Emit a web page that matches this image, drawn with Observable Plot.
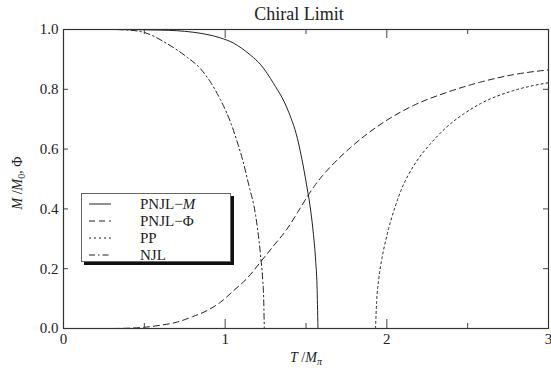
<!DOCTYPE html>
<html><head><meta charset="utf-8">
<script src="https://cdn.jsdelivr.net/npm/d3@7"></script>
<script src="https://cdn.jsdelivr.net/npm/@observablehq/plot@0.6"></script>
<style>
html,body{margin:0;padding:0;background:#fff;}
#wrap{position:relative;width:551px;height:373px;font-family:"Liberation Serif","DejaVu Serif",serif;}
#wrap svg, #wrap svg text{font-family:"Liberation Serif","DejaVu Serif",serif !important;}
#legend{position:absolute;left:81px;top:193px;width:148px;height:67px;border:1px solid #666;box-shadow:3px 3px 0 #111;background:#fff;}
#legend svg{display:block;overflow:visible;}
</style></head><body><div id="wrap"></div>
<script>
// ---- data ----
const seriesNames = ["PNJL-M", "PNJL-Phi", "PP", "NJL"];
const pnjlM_T = [0, 0.3, 0.5, 0.6, 0.7, 0.8, 0.9, 0.97, 1.05, 1.1, 1.16, 1.22, 1.3, 1.385, 1.447, 1.484, 1.507, 1.53, 1.546, 1.56, 1.568, 1.574];
const pnjlM_v = [1, 1, 0.999, 0.998, 0.996, 0.991, 0.982, 0.972, 0.955, 0.938, 0.913, 0.882, 0.819, 0.734, 0.635, 0.54, 0.47, 0.39, 0.315, 0.225, 0.145, 0];
const pnjlPhi_T = [0, 0.3, 0.4, 0.5, 0.6, 0.7, 0.8, 0.888, 0.971, 1.053, 1.136, 1.218, 1.3, 1.383, 1.45, 1.507, 1.55, 1.6, 1.65, 1.775, 1.981, 2.165, 2.373, 2.579, 2.783, 3.0];
const pnjlPhi_v = [0, 0, 0.001, 0.004, 0.011, 0.021, 0.04, 0.06, 0.088, 0.127, 0.168, 0.222, 0.277, 0.333, 0.39, 0.44, 0.475, 0.51, 0.54, 0.605, 0.69, 0.746, 0.79, 0.824, 0.849, 0.865];
const pp_T = [1.93, 1.937, 1.95, 1.97, 2.0, 2.05, 2.094, 2.167, 2.27, 2.373, 2.476, 2.579, 2.785, 3.0];
const pp_v = [0, 0.09, 0.165, 0.235, 0.31, 0.405, 0.47, 0.545, 0.618, 0.675, 0.718, 0.752, 0.796, 0.822];
const njl_T = [0, 0.3, 0.4, 0.5, 0.64, 0.765, 0.847, 0.909, 0.971, 1.033, 1.074, 1.11, 1.146, 1.188, 1.218, 1.232, 1.238, 1.242];
const njl_v = [1, 1, 0.998, 0.99, 0.953, 0.907, 0.869, 0.824, 0.765, 0.69, 0.625, 0.56, 0.48, 0.38, 0.25, 0.165, 0.105, 0];
const xTickLabels = [0, 1, 2, 3];
const xMinorTicks = [0.5, 1.5, 2.5];
const yTickLabels = [0, 0.2, 0.4, 0.6, 0.8, 1.0];
const xDomain = [0, 3];
const yDomain = [0, 1];

// ---- styles ----
const dash = {"PNJL-M": null, "PNJL-Phi": "6,4", "PP": "2,3", "NJL": "6,3,1.5,3"};
const ink = "#222";
const serif = "'Liberation Serif', 'DejaVu Serif', serif";

function rows(name, T, v, part) { return T.map((t, i) => ({series: name, seg: name + part, T: t, v: v[i]})); }
const curves = [
  ...rows("PNJL-M", pnjlM_T, pnjlM_v, "a"),
  ...rows("PNJL-Phi", pnjlPhi_T, pnjlPhi_v, "a"),
  ...rows("PP", pp_T, pp_v, "a"),
  ...rows("NJL", njl_T, njl_v, "a")
];
// zero branches: order parameters stay 0 past their Tc, PP is 0 below its Tc
const tails = [
  ...rows("PNJL-M", [pnjlM_T[pnjlM_T.length - 1], xDomain[1]], [0, 0], "z"),
  ...rows("NJL", [njl_T[njl_T.length - 1], xDomain[1]], [0, 0], "z"),
  ...rows("PP", [xDomain[0], pp_T[0]], [0, 0], "z")
];

const W = 551, H = 373, mL = 63, mR = 3, mT = 29, mB = 45;
const fw = W - mL - mR, fh = H - mT - mB;

const lineMarks = seriesNames.flatMap(name => [
  Plot.line(curves.filter(d => d.series === name), {x: "T", y: "v", z: "seg", curve: "monotone-x", stroke: ink, strokeWidth: 1, strokeDasharray: dash[name]}),
  Plot.line(tails.filter(d => d.series === name), {x: "T", y: "v", z: "seg", stroke: ink, strokeWidth: 1, strokeDasharray: dash[name]})
]);

const plot = Plot.plot({
  width: W, height: H,
  marginLeft: mL, marginRight: mR, marginTop: mT, marginBottom: mB,
  style: {fontFamily: serif, fontSize: "15px", color: ink, background: "#fff", overflow: "visible"},
  x: {domain: xDomain},
  y: {domain: yDomain},
  marks: [
    ...lineMarks,
    Plot.ruleX(xTickLabels.slice(1, -1), {insetTop: fh - 9, stroke: "#444"}),
    Plot.ruleX(xTickLabels.slice(1, -1), {insetBottom: fh - 9, stroke: "#444"}),
    Plot.ruleX(xMinorTicks, {insetTop: fh - 5, stroke: "#444"}),
    Plot.ruleX(xMinorTicks, {insetBottom: fh - 5, stroke: "#444"}),
    Plot.ruleY(yTickLabels.slice(1, -1), {insetRight: fw - 5, stroke: "#444"}),
    Plot.ruleY(yTickLabels.slice(1, -1), {insetLeft: fw - 5, stroke: "#444"}),
    Plot.frame({stroke: "#333", strokeWidth: 1.2}),
    Plot.axisX({ticks: xTickLabels, tickSize: 0, tickPadding: 5, tickFormat: d => String(d), label: null, fontSize: 15, fontFamily: serif}),
    Plot.axisY({ticks: yTickLabels, tickSize: 0, tickPadding: 5, tickFormat: d3.format(".1f"), label: null, fontSize: 15, fontFamily: serif})
  ]
});
plot.setAttribute("font-family", serif);
document.getElementById("wrap").appendChild(plot);

const svg = d3.select(plot);
svg.append("text").attr("x", 299).attr("y", 20).attr("text-anchor", "middle")
  .attr("font-family", serif).attr("font-size", 18).attr("fill", ink).text("Chiral Limit");
const xl = svg.append("text").attr("x", 306).attr("y", 362).attr("text-anchor", "middle")
  .attr("font-family", serif).attr("font-size", 14).attr("fill", ink);
xl.append("tspan").attr("font-style", "italic").text("T");
xl.append("tspan").text(" /");
xl.append("tspan").attr("font-style", "italic").text("M");
xl.append("tspan").attr("font-style", "italic").attr("font-size", 10).attr("dy", 3).text("π");
const yl = svg.append("text").attr("transform", "translate(22,183) rotate(-90)").attr("text-anchor", "middle")
  .attr("font-family", serif).attr("font-size", 14).attr("fill", ink);
yl.append("tspan").attr("font-style", "italic").text("M");
yl.append("tspan").text(" /");
yl.append("tspan").attr("font-style", "italic").text("M");
yl.append("tspan").attr("font-size", 10).attr("dy", 3).text("0");
yl.append("tspan").attr("dy", -3).text(", Φ");

const legendRows = [
  {name: "PNJL-M", label: ["PNJL\u2212", "M"]},
  {name: "PNJL-Phi", label: ["PNJL\u2212Φ", ""]},
  {name: "PP", label: ["PP", ""]},
  {name: "NJL", label: ["NJL", ""]}
];
const lg = d3.select("#wrap").append("div").attr("id", "legend");
const ls = lg.append("svg").attr("width", 148).attr("height", 67);
legendRows.forEach((r, i) => {
  const y = 10 + i * 17;
  ls.append("line").attr("x1", 7).attr("x2", 29).attr("y1", y).attr("y2", y)
    .attr("stroke", ink).attr("stroke-width", 1).attr("stroke-dasharray", dash[r.name]);
  const t = ls.append("text").attr("x", 58).attr("y", y + 5).attr("font-size", 15).attr("fill", ink)
    .attr("font-family", serif);
  t.append("tspan").text(r.label[0]);
  if (r.label[1]) t.append("tspan").attr("font-style", "italic").text(r.label[1]);
});
</script></body></html>
